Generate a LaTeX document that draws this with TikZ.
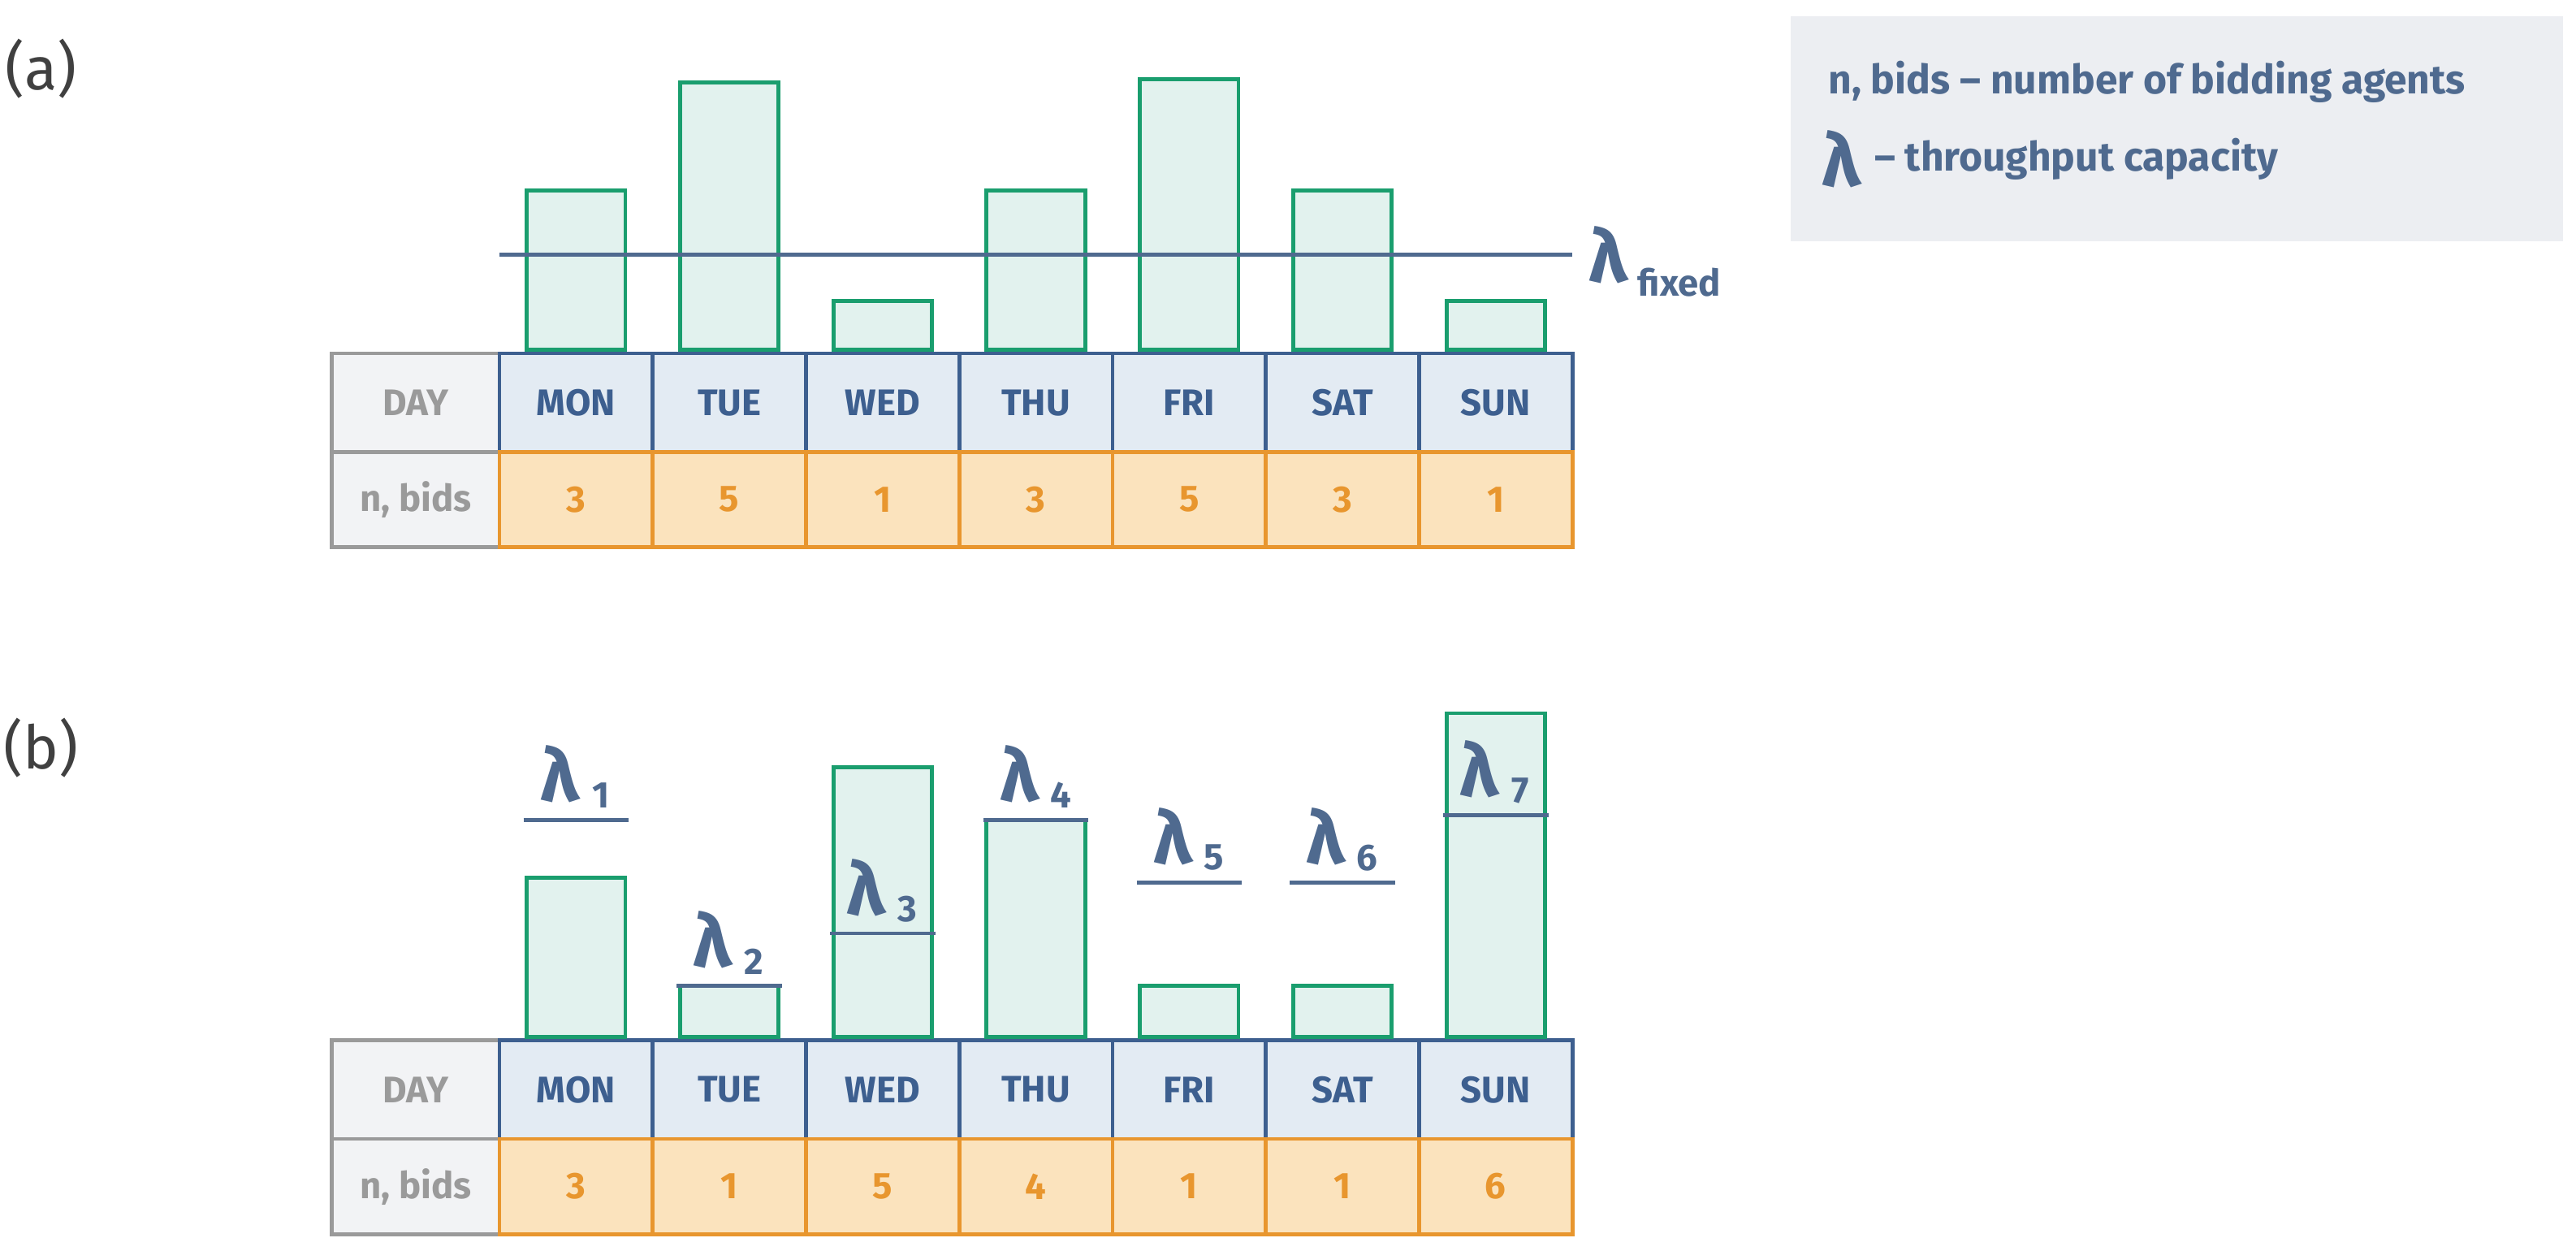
\documentclass[tikz,border=0pt]{standalone}
\usepackage{fontspec}
\setmainfont{Fira Sans}
\definecolor{grn}{HTML}{1A9E6E}
\definecolor{grnf}{HTML}{E2F2EE}
\definecolor{blu}{HTML}{4F6A8F}
\definecolor{dayb}{HTML}{3D5F8F}
\definecolor{dayf}{HTML}{E3EBF3}
\definecolor{orb}{HTML}{E8962E}
\definecolor{orf}{HTML}{FBE3BD}
\definecolor{gry}{HTML}{9A9A9A}
\definecolor{gryf}{HTML}{F2F3F5}
\definecolor{leg}{HTML}{ECEEF2}
\begin{document}
\begin{tikzpicture}[x=0.25mm,y=-0.25mm,
  bar/.style={draw=grn,fill=grnf,line width=1.7pt},
  lam/.style={draw=blu,line width=1.7pt},
  dayc/.style={draw=dayb,fill=dayf,line width=1.7pt},
  numc/.style={draw=orb,fill=orf,line width=1.7pt},
  labc/.style={draw=gry,fill=gryf,line width=1.7pt},
  tdy/.style={text=dayb,font=\fontsize{16}{19}\selectfont\bfseries},
  tnum/.style={text=orb,font=\fontsize{16}{19}\selectfont\bfseries},
  tlab/.style={text=gry,font=\fontsize{16}{19}\selectfont\bfseries},
  lt/.style={text=blu,font=\fontsize{32}{36}\selectfont\bfseries},
  st/.style={text=blu,font=\fontsize{16}{19}\selectfont\bfseries},
  lg/.style={text=blu,font=\fontsize{17.5}{21}\selectfont\bfseries},
  pl/.style={text=black!75,font=\fontsize{26}{30}\selectfont}]
\useasboundingbox (0,0) rectangle (1568,761);
% legend
\fill[leg] (1090,10) rectangle (1560,147);
\node[lg,anchor=west] (l1) at (1108,50) {n, bids – number of bidding agents};
\node[lt,anchor=west] (l2) at (1104,97) {λ};
\node[lg,anchor=west] (l3) at (1136,97) {– throughput capacity};
\node[pl] (pa) at (25,42) {(a)};
\node[pl] (pb) at (25,455) {(b)};
% tables
\def\cw{93.3}
\foreach \yo/\nums in {0/{3,5,1,3,5,3,1},418/{3,1,5,4,1,1,6}}{
  \begin{scope}[yshift=-\yo*0.25mm]
  \draw[labc] (202,215) rectangle (304,275);
  \node[tlab] (d\yo) at (253,245) {DAY};
  \draw[labc] (202,275) rectangle (304,333);
  \node[tlab] (n\yo) at (253,304) {n, bids};
  \foreach \d [count=\i from 0] in {MON,TUE,WED,THU,FRI,SAT,SUN}{
    \draw[dayc] ({304+\i*\cw},215) rectangle ({304+(\i+1)*\cw},275);
    \node[tdy] (c\yo\i) at ({304+(\i+0.5)*\cw},245) {\d};
  }
  \foreach \n [count=\i from 0] in \nums{
    \draw[numc] ({304+\i*\cw},275) rectangle ({304+(\i+1)*\cw},333);
    \node[tnum] (v\yo\i) at ({304+(\i+0.5)*\cw},304) {\n};
  }
  \end{scope}}
% bars (a)
\foreach \t [count=\i from 0] in {116,50,183,116,48,116,183}
  \draw[bar] ({304+(\i+0.5)*\cw-30},\t) rectangle ({304+(\i+0.5)*\cw+30},213);
\draw[lam] (304,155) -- (957,155);
\node[lt,anchor=west] (lf) at (962,155) {λ};
\node[st,anchor=west] (lfs) at (992,172) {fixed};
% bars (b)
\foreach \t [count=\i from 0] in {534,600,467,499,600,600,434}
  \draw[bar] ({304+(\i+0.5)*\cw-30},\t) rectangle ({304+(\i+0.5)*\cw+30},631);
\foreach \yl/\k [count=\i from 0] in {499/1,600/2,568/3,499/4,537/5,537/6,496/7}{
  \draw[lam] ({304+(\i+0.5)*\cw-32},\yl) -- ({304+(\i+0.5)*\cw+32},\yl);
  \node[lt] (g\k) at ({304+(\i+0.5)*\cw-10},\yl-28) {λ};
  \node[st] (s\k) at ({304+(\i+0.5)*\cw+15},\yl-15) {\k};
}
\end{tikzpicture}
\end{document}
